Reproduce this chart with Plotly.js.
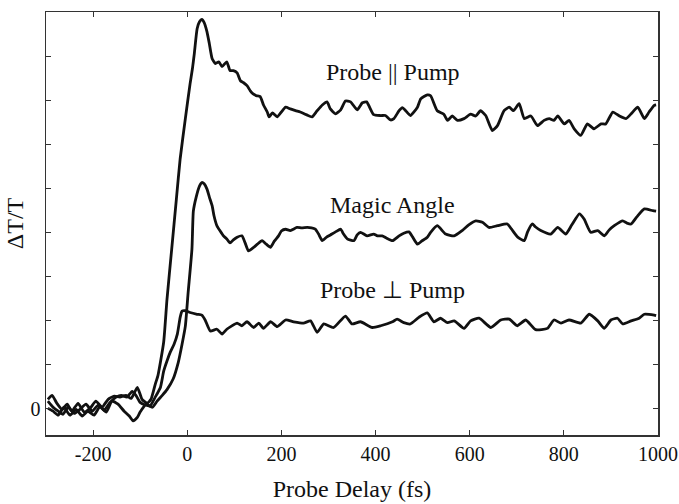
<!DOCTYPE html>
<html>
<head>
<meta charset="utf-8">
<script src="https://cdn.plot.ly/plotly-3.0.1.min.js"></script>
<style>html,body{margin:0;padding:0;background:#fff;}#chart{width:679px;height:504px;}</style>
</head>
<body>
<div id="chart"></div>
<script>
// Probe delay (fs) and dT/T (arbitrary units, 1 = one y tick)
var parDelay = [-296,-287,-277,-266,-255,-245,-232,-219,-206,-194,-181,-168,-155,-143,-130,-119,-106,-96,-85,-77,-68,-62,-50,-43,-33,-23,-15,-4,6,11,15,21,26,31,36,42,47,53,60,67,74,84,91,98,106,113,119,127,134,140,147,155,162,170,174,181,191,200,209,219,230,240,253,265,276,287,297,304,315,326,336,347,361,372,381,396,411,421,432,439,450,457,464,474,489,496,510,517,531,545,553,563,574,588,602,613,623,634,648,659,673,684,693,705,716,730,744,758,769,779,787,801,811,822,836,850,864,879,889,904,918,932,943,957,971,981,992,996];
var parSignal = [0.21,0.30,0.12,-0.02,0.10,-0.06,0.12,-0.08,0.01,0.17,0.03,0.21,0.28,0.26,0.30,0.23,0.48,0.21,0.12,0.21,0.55,0.76,1.51,2.48,3.62,4.76,5.67,6.58,7.37,7.71,8.05,8.62,8.78,8.83,8.76,8.55,8.28,7.94,7.83,7.87,7.76,7.87,7.67,7.67,7.62,7.44,7.40,7.33,7.21,7.14,7.10,7.08,6.89,6.73,6.62,6.71,6.62,6.73,6.84,6.80,6.76,6.73,6.67,6.62,6.76,6.89,6.96,6.80,6.69,6.78,6.98,6.96,6.78,6.94,6.96,6.67,6.65,6.65,6.55,6.58,6.76,6.83,6.76,6.65,6.84,7.03,7.12,7.10,6.76,6.68,6.54,6.64,6.54,6.58,6.68,6.64,6.76,6.65,6.31,6.42,6.76,6.84,6.76,6.92,6.58,6.64,6.42,6.54,6.58,6.54,6.64,6.46,6.54,6.35,6.20,6.46,6.35,6.46,6.46,6.73,6.64,6.58,6.69,6.84,6.58,6.73,6.88,6.89];

var magicDelay = [-296,-285,-274,-262,-249,-236,-223,-211,-198,-185,-172,-160,-147,-134,-123,-115,-106,-100,-87,-74,-64,-53,-43,-30,-19,-11,-4,2,10,13,19,26,31,36,42,47,53,57,63,70,77,84,91,98,106,116,123,130,141,149,159,168,177,185,194,200,209,219,233,243,255,264,272,279,287,296,304,315,326,332,340,354,361,368,382,396,404,414,423,436,450,460,471,479,489,498,510,517,531,549,567,584,598,613,627,641,659,680,689,702,716,723,733,740,751,772,787,804,817,833,843,857,872,886,896,907,925,934,943,955,971,989,996];
var magicSignal = [0.01,-0.06,-0.15,0.03,-0.15,-0.02,-0.17,-0.06,-0.15,0.05,-0.08,0.17,0.10,-0.06,-0.17,-0.28,-0.20,-0.08,0.10,0.03,0.17,0.30,0.43,0.67,1.05,1.46,1.87,2.64,3.62,4.48,4.80,5.05,5.13,5.10,4.98,4.80,4.60,4.37,4.15,4.03,3.92,3.85,3.76,3.83,3.89,3.92,3.76,3.58,3.66,3.73,3.81,3.73,3.66,3.80,3.92,4.03,4.07,4.04,4.11,4.10,4.11,4.10,4.07,3.96,3.81,3.89,3.94,4.01,4.07,3.96,3.85,3.81,3.94,4.00,3.92,3.96,3.92,3.92,3.87,3.81,3.92,3.98,4.01,3.89,3.73,3.80,3.89,4.00,4.15,3.96,3.92,4.04,4.17,4.26,4.23,4.11,4.15,4.19,4.07,3.89,3.81,4.01,4.19,4.12,4.04,3.96,4.11,3.96,4.17,4.42,4.30,4.00,4.04,3.92,4.05,4.15,4.26,4.21,4.19,4.35,4.53,4.49,4.48];

var perpDelay = [-296,-285,-274,-264,-253,-240,-228,-215,-202,-189,-177,-164,-151,-140,-128,-117,-109,-100,-89,-79,-68,-57,-50,-43,-36,-28,-21,-15,-11,-4,6,21,31,38,49,63,74,84,94,106,116,127,141,152,162,177,191,209,226,247,262,276,290,311,336,350,368,393,411,436,446,460,474,492,510,524,538,553,567,588,602,620,645,666,684,701,719,740,765,779,794,811,836,854,872,886,900,914,925,943,960,971,992,996];
var perpSignal = [0.17,0.03,-0.06,-0.13,0.03,-0.11,-0.02,0.10,-0.06,0.08,-0.04,0.14,0.26,0.30,0.26,0.39,0.30,0.14,0.08,0.06,0.26,0.48,0.85,1.08,1.28,1.46,1.69,2.07,2.21,2.22,2.18,2.14,2.12,2.01,1.76,1.80,1.69,1.80,1.87,1.94,1.88,1.97,1.84,1.94,1.82,1.97,1.86,2.01,1.97,1.94,1.99,1.73,1.92,1.84,2.10,1.92,1.97,1.84,1.88,1.97,2.03,1.95,1.92,2.07,2.17,1.97,2.05,1.95,1.99,1.82,1.99,2.05,1.84,2.01,2.03,1.88,2.01,1.79,1.82,2.01,1.94,2.01,1.94,2.14,1.99,1.82,2.01,2.05,1.92,1.99,2.05,2.14,2.12,2.11];

var xTickVals = [-200,0,200,400,600,800,1000];
var xTickText = ['-200','0','200','400','600','800','1000'];
var yTickVals = [0,1,2,3,4,5,6,7,8];
var yTickText = ['0','','','','','','','',''];
var seriesNames = ['Probe || Pump','Magic Angle','Probe \u22A5 Pump'];

var lineStyle = {color:'#111', width:2.8, shape:'spline', smoothing:0.5};
var traces = [
  {x:parDelay, y:parSignal, name:seriesNames[0], mode:'lines', line:lineStyle},
  {x:magicDelay, y:magicSignal, name:seriesNames[1], mode:'lines', line:lineStyle},
  {x:perpDelay, y:perpSignal, name:seriesNames[2], mode:'lines', line:lineStyle}
];
var serif = "'Liberation Serif', 'Times New Roman', serif";
var layout = {
  width:679, height:504,
  margin:{l:46, r:21, t:12, b:69},
  paper_bgcolor:'#fff', plot_bgcolor:'#fff',
  showlegend:false,
  font:{family:serif, color:'#111', size:20},
  xaxis:{range:[-300,1000], tickvals:xTickVals, ticktext:xTickText, ticks:'inside', ticklen:5, tickwidth:1, tickcolor:'#333',
    showline:true, linecolor:'#333', linewidth:1.5, mirror:'ticks', showgrid:false, zeroline:false,
    tickfont:{family:serif, size:20, color:'#111'},
    title:{text:'Probe Delay (fs)', font:{family:serif, size:24, color:'#111'}, standoff:16}},
  yaxis:{range:[-0.6,9.0], tickvals:yTickVals, ticktext:yTickText, ticks:'inside', ticklen:5, tickwidth:1, tickcolor:'#333',
    showline:true, linecolor:'#333', linewidth:1.5, mirror:'ticks', showgrid:false, zeroline:false,
    tickfont:{family:serif, size:20, color:'#111'},
    title:{text:'\u0394T/T', font:{family:serif, size:24, color:'#111'}, standoff:0}},
  annotations:[
    {x:438, y:7.64, xref:'x', yref:'y', text:seriesNames[0], showarrow:false, font:{family:serif, size:24, color:'#111'}},
    {x:436, y:4.62, xref:'x', yref:'y', text:seriesNames[1], showarrow:false, font:{family:serif, size:24, color:'#111'}},
    {x:437, y:2.69, xref:'x', yref:'y', text:seriesNames[2], showarrow:false, font:{family:serif, size:24, color:'#111'}}
  ]
};
Plotly.newPlot('chart', traces, layout, {staticPlot:true, displayModeBar:false});
</script>
</body>
</html>
